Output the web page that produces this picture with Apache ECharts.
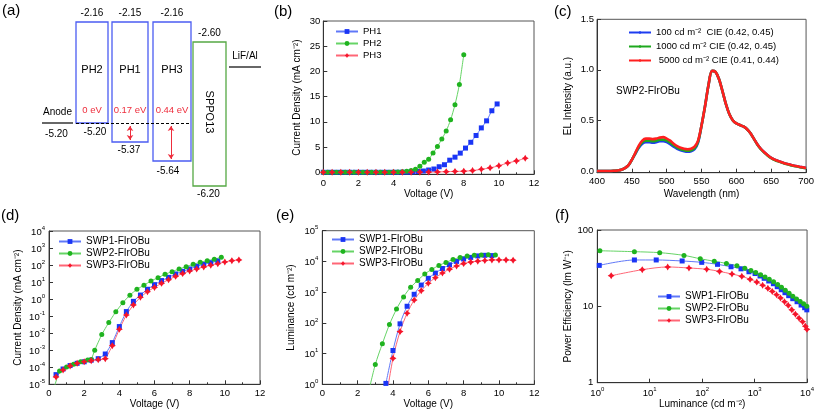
<!DOCTYPE html>
<html><head><meta charset="utf-8">
<script src="https://cdn.jsdelivr.net/npm/echarts@6/dist/echarts.min.js"></script>
<style>html,body{margin:0;padding:0;background:#fff}#c{width:817px;height:414px}</style>
</head><body><div id="c"></div>
<script>
// ================= DATA =================
// (a) energy-level diagram
const diagramMaterials = ['PH2', 'PH1', 'PH3', 'SPPO13'];
const diagramLUMO = [-2.16, -2.15, -2.16, -2.60];
const diagramHOMO = [-5.20, -5.37, -5.64, -6.20];
const diagramBarrier = ['0 eV', '0.17 eV', '0.44 eV'];
const electrodeNames = ['Anode', 'LiF/Al'];
const anodeLevel = -5.20;

// (b) current density vs voltage
const ph1V = [0,0.3,0.6,0.9,1.2,1.5,1.8,2.1,2.4,2.7,3.0,3.3,3.6,3.9,4.2,4.5,4.8,5.1,5.4,5.7,6.0,6.3,6.6,6.9,7.2,7.5,7.8,8.1,8.4,8.7,9.0,9.3,9.6,9.9];
const ph1J = [0,0,0,0,0,0,0,0,0,0,0,0,0,0,0.01,0.02,0.04,0.08,0.15,0.25,0.45,0.65,1.1,1.5,2.4,3.0,3.8,4.8,5.95,7.3,8.8,10.2,12.2,13.55];
const ph2V = [0,0.25,0.5,0.75,1.0,1.25,1.5,1.75,2.0,2.25,2.5,2.75,3.0,3.25,3.5,3.75,4.0,4.25,4.5,4.75,5.0,5.25,5.5,5.75,6.0,6.25,6.5,6.75,7.0,7.25,7.5,7.75,8.0];
const ph2J = [0,0,0,0,0,0,0,0,0,0,0,0,0,0,0.01,0.02,0.04,0.07,0.12,0.2,0.35,0.6,1.2,2.0,2.6,3.8,5.1,6.6,8.2,10.4,13.4,17.4,23.3];
const ph3V = [0,0.5,1.0,1.5,2.0,2.5,3.0,3.5,4.0,4.5,5.0,5.5,6.0,6.5,7.0,7.5,8.0,8.5,9.0,9.5,10.0,10.5,11.0,11.5];
const ph3J = [0,0,0,0,0,0,0,0,0,0,0,0.02,0.04,0.07,0.12,0.17,0.22,0.33,0.6,0.88,1.3,1.84,2.25,2.78];
const bTicksY = [0,5,10,15,20,25,30];

// (c) EL spectra
const wavelength = [400,405,410,415,420,425,430,435,440,445,450,455,460,465,470,475,480,485,490,495,500,505,510,515,520,525,530,535,540,545,550,555,560,565,570,575,580,585,590,595,600,605,610,615,620,625,630,635,640,645,650,655,660,665,670,675,680,685,690,695,700];
const el100 = [0,0,0,0,0,0.002,0.005,0.012,0.028,0.055,0.11,0.17,0.23,0.27,0.285,0.285,0.28,0.285,0.295,0.295,0.285,0.265,0.24,0.22,0.205,0.195,0.19,0.195,0.215,0.28,0.45,0.64,0.85,0.99,0.98,0.91,0.79,0.66,0.56,0.50,0.47,0.455,0.44,0.415,0.375,0.32,0.265,0.22,0.185,0.155,0.13,0.112,0.098,0.086,0.075,0.066,0.057,0.049,0.042,0.036,0.03];
const el1000 = [0,0,0,0,0,0.002,0.005,0.012,0.028,0.055,0.11,0.175,0.24,0.285,0.30,0.30,0.295,0.30,0.31,0.31,0.30,0.28,0.255,0.23,0.215,0.205,0.20,0.205,0.225,0.29,0.45,0.64,0.85,0.99,0.98,0.91,0.79,0.66,0.56,0.50,0.47,0.455,0.44,0.415,0.375,0.32,0.262,0.217,0.182,0.152,0.127,0.109,0.095,0.083,0.072,0.063,0.054,0.046,0.039,0.033,0.027];
const el5000 = [0,0,0,0,0,0.002,0.005,0.012,0.028,0.055,0.11,0.18,0.25,0.30,0.32,0.32,0.315,0.32,0.33,0.335,0.32,0.30,0.27,0.245,0.23,0.22,0.215,0.22,0.24,0.30,0.45,0.64,0.85,0.99,0.98,0.91,0.79,0.66,0.56,0.50,0.47,0.455,0.44,0.415,0.375,0.32,0.265,0.22,0.185,0.155,0.13,0.112,0.098,0.086,0.075,0.066,0.057,0.049,0.042,0.036,0.03];
const cTicksY = [0,0.5,1.0,1.5];
const cNames = ['100 cd m\u207B\u00B2  CIE (0.42, 0.45)', '1000 cd m\u207B\u00B2 CIE (0.42, 0.45)', ' 5000 cd m\u207B\u00B2 CIE (0.41, 0.44)'];

// (d) log current density vs voltage
const swpNames = ['SWP1-FIrOBu', 'SWP2-FIrOBu', 'SWP3-FIrOBu'];
const swp1dV = [0.4,0.8,1.2,1.6,2.0,2.4,2.8,3.2,3.6,4.0,4.4,4.8,5.2,5.6,6.0,6.4,6.8,7.2,7.6,8.0,8.4,8.8,9.2,9.6];
const swp1dJ = [3.7e-5,7.9e-5,1.26e-4,1.7e-4,2.1e-4,2.6e-4,3.2e-4,6.0e-4,2.8e-3,0.0245,0.186,0.74,1.74,3.8,7.1,12.3,19,30,43,59,85,110,138,174];
const swp2dV = [0.2,0.6,1.0,1.4,1.8,2.2,2.4,2.6,3.0,3.4,3.8,4.2,4.6,5.0,5.4,5.8,6.2,6.6,7.0,7.4,7.8,8.2,8.6,9.0,9.4,9.8];
const swp2dJ = [3e-6,6e-5,1.05e-4,1.5e-4,2.1e-4,2.7e-4,2.9e-4,1.0e-3,8.3e-3,0.042,0.18,0.62,1.7,3.8,6.5,11.7,18,29,41,59,81,110,145,182,219,288];
const swp3dV = [0.4,0.8,1.2,1.6,2.0,2.4,2.8,3.2,3.6,4.0,4.4,4.8,5.2,5.6,6.0,6.4,6.8,7.2,7.6,8.0,8.4,8.8,9.2,9.6,10.0,10.4,10.8];
const swp3dJ = [2.7e-5,6.9e-5,1.2e-4,1.7e-4,2.1e-4,2.45e-4,2.8e-4,3.2e-4,1.86e-3,0.017,0.117,0.457,1.29,2.75,4.9,8.5,13.8,21.9,31.6,44.7,58.9,77.6,97.7,120,151,182,200];

// (e) luminance vs voltage
const swp1eV = [3.6,4.0,4.4,4.8,5.2,5.6,6.0,6.4,6.8,7.2,7.6,8.0,8.4,8.8,9.2,9.6];
const swp1eL = [1.07,12.6,93,347,851,1700,2820,4170,5890,7760,10000,12000,13500,15100,15800,15500];
const swp2eV = [2.6,3.0,3.4,3.8,4.2,4.6,5.0,5.4,5.8,6.2,6.6,7.0,7.4,7.8,8.2,8.6,9.0,9.4,9.8];
const swp2eL = [0.5,4.4,21,88,280,700,1440,2400,3900,5500,7400,9300,11500,13500,15100,15800,16200,16600,16200];
const swp3eV = [3.6,4.0,4.4,4.8,5.2,5.6,6.0,6.4,6.8,7.2,7.6,8.0,8.4,8.8,9.2,9.6,10.0,10.4,10.8];
const swp3eL = [0.3,7.0,52,205,550,1120,1950,2950,4200,5600,7100,8500,9500,10200,10700,11200,11200,11200,11000];

// (f) power efficiency vs luminance
const swp1fL = [1.09,5.1,13.3,41.5,98,196,355,550,780,1020,1270,1520,1860,2280,2700,3220,3790,4470,5340,6450,7700,9000,9900];
const swp1fPE = [34.4,40.5,40.5,39.3,37.7,35.5,33,31,28.4,26.9,25,23.3,21.5,19.8,18.1,16.5,15.1,13.8,12.6,11.5,10.4,9.6,9.0];
const swp2fL = [1.12,5.1,15.5,45,92,170,290,460,650,850,1050,1300,1580,1900,2300,2750,3250,3850,4550,5350,6300,7400,8600,9900];
const swp2fPE = [53.5,52,50.5,46.5,42,39,36.5,34,31.5,29.5,27.8,26,24.3,22.6,21,19.4,17.8,16.3,14.9,13.6,12.5,11.6,10.8,10.0];
const swp3fL = [1.84,7.2,22,56,122,214,370,570,820,1100,1420,1790,2170,2620,3110,3720,4370,5120,6000,7050,8200,9300,9950];
const swp3fPE = [25.2,30.2,32.8,31.8,30.6,28.7,26.5,24.7,22.6,20.8,18.9,17.2,15.7,14.2,12.9,11.5,10.3,9.0,7.9,7.0,6.3,5.5,5.0];

// ================= LAYOUT / STYLE =================
const FONT = '"Liberation Sans", Arial, sans-serif';
const AX = '#333';
const BLUE_M = '#1a35f5', BLUE_L = '#6078f8';
const GREEN_M = '#1fb31f', GREEN_L = '#66d466';
const RED_M = '#f5142a', RED_L = '#ff6676';
const STAR = 'path://M0,-10L3.8,-3.8L10,0L3.8,3.8L0,10L-3.8,3.8L-10,0L-3.8,-3.8Z';

// schematic layout of panel (a), in diagram units of its hidden axes
const aLayout = {
  boxX: [[76,108],[112,148],[153,191],[193,226]],
  boxTop: [22,22,22,42],
  boxBottom: [123,142,161,186],
  nameY: [70,70,70,112],
  barrierY: 110,
  homoDx: [3,-1,-4,-1],
  homoDy: [9,8,10,8],
  colors: ['#4b5cf2','#4b5cf2','#4b5cf2','#55a844'],
  anodeX: [42,73], anodeY: 123,
  cathodeX: [229,261], cathodeY: 67,
  dashX: [76,191],
  arrows: [[130,126,140],[171,126,159]]
};

const pairs = (xs, ys) => xs.map((x, i) => [x, ys[i]]);

const chart = echarts.init(document.getElementById('c'), null, {renderer: 'canvas'});

const grids = [
  {left: 0, top: 0, width: 270, height: 200, show: false},
  {left: 323.3, top: 21, width: 210.7, height: 153.3},
  {left: 597, top: 19.3, width: 210, height: 153.4},
  {left: 49, top: 231, width: 211, height: 153.3},
  {left: 322.3, top: 230.7, width: 212, height: 153.6},
  {left: 597.3, top: 230, width: 211, height: 152.7}
].map((g, i) => Object.assign({containLabel: false, show: i > 0, borderColor: '#555', borderWidth: 1, backgroundColor: 'transparent'}, g));

function baseAxis(grid, o) {
  return Object.assign({
    gridIndex: grid, nameLocation: 'middle',
    axisLine: {show: true, onZero: false, lineStyle: {color: AX, width: 1}},
    axisTick: {show: true, inside: true, length: 4, lineStyle: {color: AX, width: 1}},
    axisLabel: {color: '#000', fontSize: 9.5, fontFamily: FONT, margin: 4},
    splitLine: {show: false},
    nameTextStyle: {color: '#000', fontSize: 10, fontFamily: FONT}
  }, o);
}
const supRich = {
  b: {fontSize: 9.5, fontFamily: FONT, color: '#000', lineHeight: 12, verticalAlign: 'bottom'},
  s: {fontSize: 6, fontFamily: FONT, color: '#000', lineHeight: 12, verticalAlign: 'top', padding: [0, 0, 0, 0]}
};
const powFmt = v => '{b|10}{s|' + Math.round(Math.log10(v)) + '}';
function logAxis(grid, o) {
  return baseAxis(grid, Object.assign({
    type: 'log', logBase: 10,
    axisLabel: {color: '#000', fontSize: 9.5, fontFamily: FONT, margin: 4, formatter: powFmt, rich: supRich}
  }, o));
}

const xAxes = [
  {gridIndex: 0, type: 'value', min: 0, max: 270, show: false},
  baseAxis(1, {type: 'value', min: 0, max: 12, interval: 2, name: 'Voltage (V)', nameGap: 15,
    minorTick: {show: true, splitNumber: 2, length: 2, lineStyle: {color: AX}}}),
  baseAxis(2, {type: 'value', min: 400, max: 700, interval: 50, name: 'Wavelength (nm)', nameGap: 17,
    minorTick: {show: true, splitNumber: 2, length: 2, lineStyle: {color: AX}}}),
  baseAxis(3, {type: 'value', min: 0, max: 12, interval: 2, name: 'Voltage (V)', nameGap: 15,
    minorTick: {show: true, splitNumber: 2, length: 2, lineStyle: {color: AX}}}),
  baseAxis(4, {type: 'value', min: 0, max: 12, interval: 2, name: 'Voltage (V)', nameGap: 14,
    minorTick: {show: true, splitNumber: 2, length: 2, lineStyle: {color: AX}}}),
  logAxis(5, {min: 1, max: 1e4, splitNumber: 4, name: 'Luminance (cd m\u207B\u00B2)', nameGap: 13})
];
const yAxes = [
  {gridIndex: 0, type: 'value', min: 0, max: 200, inverse: true, show: false},
  baseAxis(1, {type: 'value', min: -0.4, max: 30, name: 'Current Density (mA cm\u207B\u00B2)', nameGap: 21,
    axisLabel: {color: '#000', fontSize: 9.5, fontFamily: FONT, margin: 3, customValues: bTicksY},
    axisTick: {show: true, inside: true, length: 4, lineStyle: {color: AX}, customValues: bTicksY}}),
  baseAxis(2, {type: 'value', min: -0.017, max: 1.5, name: 'EL Intensity (a.u.)', nameGap: 24,
    axisLabel: {color: '#000', fontSize: 9.5, fontFamily: FONT, margin: 3, customValues: cTicksY, formatter: v => v.toFixed(1)},
    axisTick: {show: true, inside: true, length: 4, lineStyle: {color: AX}, customValues: cTicksY}}),
  logAxis(3, {min: 1e-5, max: 1e4, splitNumber: 9, name: 'Current Density (mA cm\u207B\u00B2)', nameGap: 26}),
  logAxis(4, {min: 1, max: 1e5, splitNumber: 5, name: 'Luminance (cd m\u207B\u00B2)', nameGap: 26}),
  baseAxis(5, {type: 'log', logBase: 10, min: 1, max: 100, splitNumber: 2, name: 'Power Efficiency (lm W\u207B\u00B9)', nameGap: 23})
];

// ---- series ----
const series = [];
// (a) boxes
series.push({
  type: 'custom', xAxisIndex: 0, yAxisIndex: 0, silent: true,
  data: diagramMaterials.map((m, i) => [i]),
  renderItem: (params, api) => {
    const i = params.dataIndex, L = aLayout;
    const tl = api.coord([L.boxX[i][0], L.boxTop[i]]);
    const br = api.coord([L.boxX[i][1], L.boxBottom[i]]);
    const cx = (tl[0] + br[0]) / 2;
    const nm = api.coord([0, L.nameY[i]]);
    const txt = (t, x, y, size, color, rot) => ({type: 'text', x, y, rotation: rot || 0,
      style: {text: t, fill: color || '#000', fontSize: size, fontFamily: FONT, align: 'center', verticalAlign: 'middle'}});
    const ch = [
      {type: 'rect', shape: {x: tl[0], y: tl[1], width: br[0] - tl[0], height: br[1] - tl[1]},
        style: {fill: 'none', stroke: L.colors[i], lineWidth: 1.3}},
      txt(diagramLUMO[i].toFixed(2), cx, tl[1] - 8.5, 10),
      txt(diagramHOMO[i].toFixed(2), cx + L.homoDx[i], br[1] + L.homoDy[i], 10),
      txt(diagramMaterials[i], cx, nm[1], 11, '#000', i === 3 ? -Math.PI / 2 : 0)
    ];
    if (i < diagramBarrier.length) {
      ch.push(txt(diagramBarrier[i], cx, api.coord([0, L.barrierY])[1], 9.5, '#ee2d3c'));
    }
    return {type: 'group', children: ch};
  }
});
// (a) electrodes
series.push({
  type: 'custom', xAxisIndex: 0, yAxisIndex: 0, silent: true,
  data: electrodeNames.map((m, i) => [i]),
  renderItem: (params, api) => {
    const i = params.dataIndex, L = aLayout;
    const xs = i === 0 ? L.anodeX : L.cathodeX, yy = i === 0 ? L.anodeY : L.cathodeY;
    const p1 = api.coord([xs[0], yy]), p2 = api.coord([xs[1], yy]);
    const cx = (p1[0] + p2[0]) / 2;
    const ch = [
      {type: 'line', shape: {x1: p1[0], y1: p1[1], x2: p2[0], y2: p2[1]}, style: {stroke: '#000', lineWidth: 1.2}},
      {type: 'text', x: cx, y: p1[1] - 11, style: {text: electrodeNames[i], fill: '#000', fontSize: 10, fontFamily: FONT, align: 'center', verticalAlign: 'middle'}}
    ];
    if (i === 0) ch.push({type: 'text', x: cx - 1, y: p1[1] + 11, style: {text: anodeLevel.toFixed(2), fill: '#000', fontSize: 10, fontFamily: FONT, align: 'center', verticalAlign: 'middle'}});
    return {type: 'group', children: ch};
  }
});
series.push({
  type: 'lines', coordinateSystem: 'cartesian2d', xAxisIndex: 0, yAxisIndex: 0, silent: true,
  symbol: 'none', lineStyle: {color: '#000', width: 1, type: [3, 2], opacity: 1},
  data: [{coords: [[aLayout.dashX[0], aLayout.anodeY], [aLayout.dashX[1], aLayout.anodeY]]}]
});
series.push({
  type: 'lines', coordinateSystem: 'cartesian2d', xAxisIndex: 0, yAxisIndex: 0, silent: true,
  symbol: ['arrow', 'arrow'], symbolSize: 5, lineStyle: {color: '#ee2d3c', width: 1, opacity: 1},
  data: aLayout.arrows.map(a => ({coords: [[a[0], a[1]], [a[0], a[2]]]}))
});

function lineSeries(name, xi, yi, data, sym, mc, lc, size, smooth) {
  return {name, type: 'line', xAxisIndex: xi, yAxisIndex: yi, data, smooth: smooth, symbol: sym, symbolSize: size,
    showAllSymbol: true, clip: true,
    itemStyle: {color: mc, borderWidth: 0}, lineStyle: {color: lc, width: 1}, emphasis: {disabled: true}};
}
// (b)
series.push(lineSeries('PH1', 1, 1, pairs(ph1V, ph1J), 'rect', BLUE_M, BLUE_L, 5, 0.25));
series.push(lineSeries('PH2', 1, 1, pairs(ph2V, ph2J), 'circle', GREEN_M, GREEN_L, 5, 0.25));
series.push(lineSeries('PH3', 1, 1, pairs(ph3V, ph3J), STAR, RED_M, RED_L, 7, 0.25));
// (c)
[[el100, '#1d3cf0'], [el1000, '#1ea81e'], [el5000, '#ff1f1f']].forEach((s, k) => {
  series.push({name: cNames[k], type: 'line', xAxisIndex: 2, yAxisIndex: 2, data: pairs(wavelength, s[0]),
    smooth: 0.3, symbol: 'none', lineStyle: {color: s[1], width: 2.6}, itemStyle: {color: s[1]}, emphasis: {disabled: true}});
});
// (d)
series.push(lineSeries(swpNames[0], 3, 3, pairs(swp1dV, swp1dJ), 'rect', BLUE_M, BLUE_L, 5, 0.15));
series.push(lineSeries(swpNames[1], 3, 3, pairs(swp2dV, swp2dJ), 'circle', GREEN_M, GREEN_L, 5, 0.15));
series.push(lineSeries(swpNames[2], 3, 3, pairs(swp3dV, swp3dJ), STAR, RED_M, RED_L, 7, 0.15));
// (e)
series.push(lineSeries(swpNames[0], 4, 4, pairs(swp1eV, swp1eL), 'rect', BLUE_M, BLUE_L, 5, 0.3));
series.push(lineSeries(swpNames[1], 4, 4, pairs(swp2eV, swp2eL), 'circle', GREEN_M, GREEN_L, 5, 0.3));
series.push(lineSeries(swpNames[2], 4, 4, pairs(swp3eV, swp3eL), STAR, RED_M, RED_L, 7, 0.3));
// (f)
series.push(lineSeries(swpNames[0], 5, 5, pairs(swp1fL, swp1fPE), 'rect', BLUE_M, BLUE_L, 5, 0.3));
series.push(lineSeries(swpNames[1], 5, 5, pairs(swp2fL, swp2fPE), 'circle', GREEN_M, GREEN_L, 5, 0.3));
series.push(lineSeries(swpNames[2], 5, 5, pairs(swp3fL, swp3fPE), STAR, RED_M, RED_L, 7, 0.3));

function legendAt(left, top, names, gap, fs) {
  return {orient: 'vertical', left, top, data: names, itemWidth: 22, itemHeight: 6, itemGap: gap, padding: 0,
    selectedMode: false, textStyle: {fontSize: fs || 9.5, fontFamily: FONT, color: '#000', lineHeight: 11}};
}

const titleStyle = {fontSize: 15, fontWeight: 'normal', fontFamily: FONT, color: '#000'};
const titles = [
  ['(a)', 2, 3], ['(b)', 274, 4], ['(c)', 554, 4], ['(d)', 1, 208], ['(e)', 276, 208], ['(f)', 555, 208]
].map(t => ({text: t[0], left: t[1], top: t[2], padding: 0, textStyle: titleStyle}));
titles.push({text: 'SWP2-FIrOBu', left: 616, top: 86, padding: 0, textStyle: {fontSize: 10, fontWeight: 'normal', fontFamily: FONT, color: '#000'}});

chart.setOption({
  animation: false,
  backgroundColor: '#fff',
  title: titles,
  grid: grids,
  xAxis: xAxes,
  yAxis: yAxes,
  legend: [
    legendAt(335, 26, ['PH1', 'PH2', 'PH3'], 1),
    Object.assign(legendAt(628, 27, cNames, 3), {itemHeight: 3}),
    legendAt(58, 236, swpNames, 1, 10),
    legendAt(331, 234, swpNames, 1, 10),
    legendAt(657, 291, swpNames, 1, 10)
  ],
  series
});
</script></body></html>
